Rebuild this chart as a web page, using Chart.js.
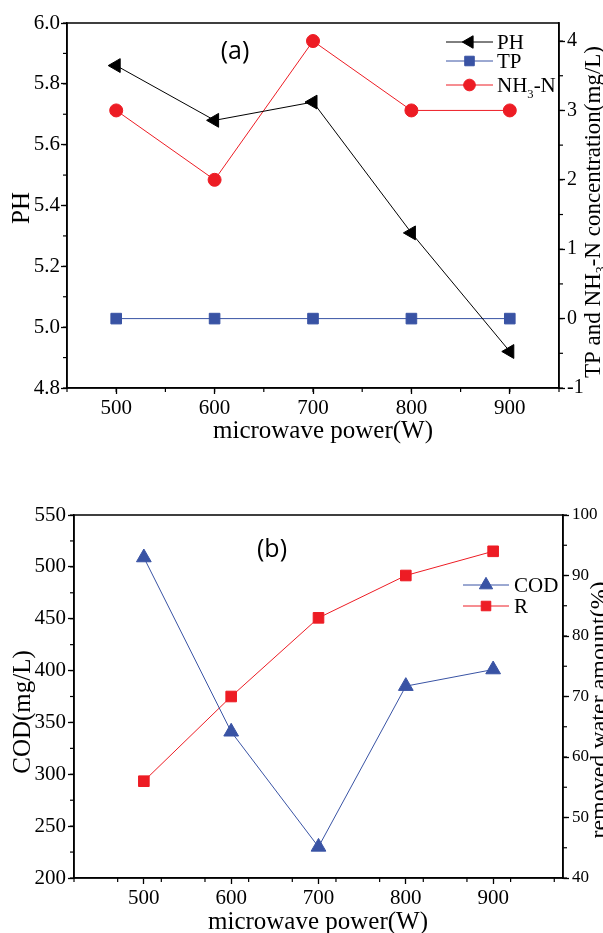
<!DOCTYPE html>
<html>
<head>
<meta charset="utf-8">
<script src="https://cdn.jsdelivr.net/npm/chart.js@4"></script>
<style>
  body { margin: 0; background: #fff; }
  .box { position: absolute; left: 0; width: 603px; }
  #boxA { top: 0; height: 460px; }
  #boxB { top: 470px; height: 463px; }
</style>
</head>
<body>
<div class="box" id="boxA"><canvas id="chartA" width="603" height="460"></canvas></div>
<div class="box" id="boxB"><canvas id="chartB" width="603" height="463"></canvas></div>
<script>
// microwave power levels (W)
var power = [500, 600, 700, 800, 900];

// (a)
var phValues = [5.86, 5.68, 5.74, 5.31, 4.92];
var tpValues = [0, 0, 0, 0, 0];
var nh3nValues = [3, 2, 4, 3, 3];
var phTicks = [4.8, 5.0, 5.2, 5.4, 5.6, 5.8, 6.0];
var concTicks = [-1, 0, 1, 2, 3, 4];

// (b)
var codValues = [509, 341, 230, 385, 401];
var rValues = [56, 70, 83, 90, 94];
var codTicks = [200, 250, 300, 350, 400, 450, 500, 550];
var rTicks = [40, 50, 60, 70, 80, 90, 100];

var xTitle = 'microwave power(W)';
var phTitle = 'PH';
var concTitle = 'TP and NH3-N concentration(mg/L)';
var codTitle = 'COD(mg/L)';
var rTitle = 'removed water amount(%)';

var SERIF = "'Liberation Serif', 'Times New Roman', serif";
var BLUE = '#3953a4';
var RED = '#ed1c24';

Chart.defaults.font.family = SERIF;
Chart.defaults.color = '#000';

function pts(ys){
  return power.map(function(x, i){ return {x: x, y: ys[i]}; });
}

// text with chemistry subscripts (digit right after a capital letter)
function drawRich(ctx, text, x, y, size, align){
  var parts = [];
  var re = /([A-Z])(\d)/g, last = 0, m;
  while ((m = re.exec(text)) !== null){
    parts.push({t: text.slice(last, m.index + 1), sub: false});
    parts.push({t: m[2], sub: true});
    last = m.index + 2;
  }
  parts.push({t: text.slice(last), sub: false});
  var w = 0;
  parts.forEach(function(p){
    ctx.font = (p.sub ? size * 0.6 : size) + 'px ' + SERIF;
    p.w = ctx.measureText(p.t).width;
    w += p.w;
  });
  var cx = align == 'center' ? x - w / 2 : x;
  ctx.textAlign = 'left';
  ctx.textBaseline = 'alphabetic';
  parts.forEach(function(p){
    ctx.font = (p.sub ? size * 0.6 : size) + 'px ' + SERIF;
    ctx.fillText(p.t, cx, p.sub ? y + size * 0.28 : y);
    cx += p.w;
  });
}

function marker(ctx, ds, x, y){
  ctx.fillStyle = ds.pointBackgroundColor;
  ctx.strokeStyle = ds.pointBorderColor;
  ctx.lineWidth = 1;
  if (Chart.helpers && Chart.helpers.drawPoint){
    Chart.helpers.drawPoint(ctx, {pointStyle: ds.pointStyle, rotation: ds.pointRotation || 0,
      radius: ds.pointRadius * 0.9, borderWidth: 1}, x, y);
  } else {
    ctx.beginPath(); ctx.arc(x, y, ds.pointRadius * 0.8, 0, Math.PI * 2); ctx.fill();
  }
}

var decor = {
  id: 'decor',
  afterDraw: function(chart, args, opts){
    var ctx = chart.ctx, a = chart.chartArea;
    ctx.save();
    // frame
    ctx.strokeStyle = '#000';
    ctx.lineWidth = 1.5;
    ctx.strokeRect(a.left, a.top, a.right - a.left, a.bottom - a.top);
    // minor ticks
    ctx.lineWidth = 1.2;
    Object.keys(opts.minor || {}).forEach(function(id){
      var s = chart.scales[id], step = opts.minor[id];
      for (var v = s.min; v <= s.max + 1e-9; v += step){
        var p = s.getPixelForValue(v);
        ctx.beginPath();
        if (id == 'x'){ ctx.moveTo(p, a.bottom); ctx.lineTo(p, a.bottom + 4); }
        else if (s.position == 'left'){ ctx.moveTo(a.left, p); ctx.lineTo(a.left - 4, p); }
        else { ctx.moveTo(a.right, p); ctx.lineTo(a.right + 4, p); }
        ctx.stroke();
      }
    });
    // legend
    var lg = opts.legend;
    chart.data.datasets.forEach(function(ds, i){
      var y = lg.rows[i];
      ctx.strokeStyle = ds.borderColor;
      ctx.lineWidth = 1;
      ctx.beginPath(); ctx.moveTo(lg.x1, y); ctx.lineTo(lg.x2, y); ctx.stroke();
      marker(ctx, ds, (lg.x1 + lg.x2) / 2, y);
      ctx.fillStyle = '#000';
      drawRich(ctx, ds.label, lg.tx, y + 7, 21, 'left');
    });
    // titles and panel label
    ctx.fillStyle = '#000';
    (opts.texts || []).forEach(function(t){
      ctx.save();
      ctx.translate(t.x, t.y);
      if (t.rot) ctx.rotate(t.rot);
      if (t.sans){
        ctx.font = t.size + "px 'Open Sans', sans-serif";
        ctx.textAlign = 'center'; ctx.textBaseline = 'middle';
        ctx.fillText(t.text, 0, 0);
      } else {
        drawRich(ctx, t.text, 0, 0, t.size, 'center');
      }
      ctx.restore();
    });
    ctx.restore();
  }
};

function axis(opt){
  return {
    type: 'linear',
    position: opt.position,
    min: opt.min,
    max: opt.max,
    afterBuildTicks: function(s){ s.ticks = opt.ticks.map(function(v){ return {value: v}; }); },
    afterFit: function(s){ if (opt.position == 'bottom') s.height = opt.size; else s.width = opt.size; },
    grid: {drawOnChartArea: false, drawTicks: true, tickLength: 6, tickWidth: 1.3, tickColor: '#000'},
    border: {display: true, color: '#000', width: 1.5},
    ticks: {
      color: '#000',
      padding: opt.padding,
      font: {family: SERIF, size: opt.font},
      callback: opt.fmt || function(v){ return String(v); }
    }
  };
}

function series(label, ys, axisId, color, style, radius, rot){
  return {
    label: label, data: pts(ys), yAxisID: axisId,
    borderColor: color, backgroundColor: color, borderWidth: 1,
    pointStyle: style, pointRadius: radius, pointHoverRadius: radius,
    pointRotation: rot || 0, pointBackgroundColor: color, pointBorderColor: color,
    pointBorderWidth: 1, tension: 0, fill: false
  };
}

new Chart(document.getElementById('chartA'), {
  type: 'line',
  data: {datasets: [
    series('PH', phValues, 'y', '#000', 'triangle', 8, -90),
    series('TP', tpValues, 'y1', BLUE, 'rect', 7.5),
    series('NH3-N', nh3nValues, 'y1', RED, 'circle', 6.5)
  ]},
  options: {
    responsive: false, animation: false, devicePixelRatio: 1,
    layout: {padding: {top: 23, left: 0, right: 0, bottom: 0}},
    scales: {
      x: axis({position: 'bottom', min: 450, max: 950, ticks: power, size: 72, padding: 2, font: 21}),
      y: axis({position: 'left', min: 4.8, max: 6.0, ticks: phTicks, size: 67, padding: 1, font: 21,
        fmt: function(v){ return v.toFixed(1); }}),
      y1: axis({position: 'right', min: -1, max: 4.26, ticks: concTicks, size: 44, padding: 2, font: 20})
    },
    plugins: {
      legend: {display: false}, tooltip: {enabled: false},
      decor: {
        minor: {x: 50, y: 0.1, y1: 0.5},
        legend: {x1: 446, x2: 493, tx: 497, rows: [42, 61, 85]},
        texts: [
          {text: '(a)', x: 235, y: 52, size: 25, sans: true},
          {text: xTitle, x: 323, y: 438, size: 25},
          {text: phTitle, x: 29, y: 208, size: 25, rot: -Math.PI / 2},
          {text: concTitle, x: 600, y: 212, size: 23, rot: -Math.PI / 2}
        ]
      }
    }
  },
  plugins: [decor]
});

new Chart(document.getElementById('chartB'), {
  type: 'line',
  data: {datasets: [
    series('COD', codValues, 'y', BLUE, 'triangle', 8.5),
    series('R', rValues, 'y1', RED, 'rect', 7.5)
  ]},
  options: {
    responsive: false, animation: false, devicePixelRatio: 1,
    layout: {padding: {top: 45, left: 0, right: 0, bottom: 0}},
    scales: {
      x: axis({position: 'bottom', min: 420, max: 980, ticks: power, size: 55, padding: 2, font: 21}),
      y: axis({position: 'left', min: 200, max: 550, ticks: codTicks, size: 74, padding: 2, font: 21}),
      y1: axis({position: 'right', min: 40, max: 100, ticks: rTicks, size: 40, padding: 3, font: 17})
    },
    plugins: {
      legend: {display: false}, tooltip: {enabled: false},
      decor: {
        minor: {x: 50, y: 25, y1: 5},
        legend: {x1: 463, x2: 509, tx: 514, rows: [115, 136]},
        texts: [
          {text: '(b)', x: 272, y: 80, size: 25, sans: true},
          {text: xTitle, x: 318, y: 459, size: 25},
          {text: codTitle, x: 30, y: 242, size: 25, rot: -Math.PI / 2},
          {text: rTitle, x: 606, y: 240, size: 24, rot: -Math.PI / 2}
        ]
      }
    }
  },
  plugins: [decor]
});
</script>
</body>
</html>
